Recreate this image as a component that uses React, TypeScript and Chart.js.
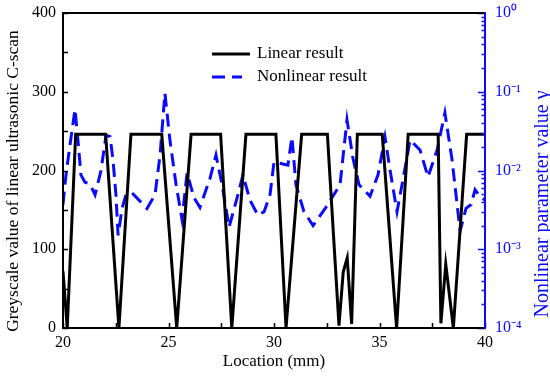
import { useEffect, useRef } from 'react';
import { Chart, registerables } from 'chart.js';

Chart.register(...registerables);

// ---- data ----
const linearX = [20.0, 20.2, 20.6, 22.02, 22.65, 23.22, 24.68, 25.39, 26.07, 27.47, 28.0, 28.67, 30.09, 30.57, 31.31, 32.53, 33.08, 33.28, 33.47, 33.68, 33.95, 35.13, 35.81, 36.36, 37.78, 37.91, 38.14, 38.5, 39.13, 40.0];
const linearY = [72, 0, 246, 246, 0, 246, 246, 0, 246, 246, 0, 246, 246, 0, 246, 246, 3, 71, 89, 5, 246, 246, 0, 246, 246, 6, 81, 0, 246, 246];

const nonlinearX = [20.0, 20.14, 20.33, 20.57, 20.71, 20.85, 21.04, 21.28, 21.52, 21.8, 22.04, 22.23, 22.37, 22.51, 22.61, 22.8, 22.99, 23.27, 23.98, 24.36, 24.6, 24.83, 25.07, 25.36, 25.64, 25.88, 26.21, 26.49, 26.97, 27.25, 27.54, 27.87, 28.25, 28.53, 28.86, 29.24, 29.53, 29.81, 30.0, 30.66, 30.85, 31.04, 31.42, 31.85, 32.46, 33.13, 33.46, 33.74, 34.03, 34.55, 34.93, 35.26, 35.5, 35.83, 36.11, 36.45, 36.92, 37.3, 37.73, 38.1, 38.44, 38.82, 39.1, 39.34, 39.53, 39.76, 40.0];
const nonlinearY = [0.0037, 0.0088, 0.021, 0.06, 0.024, 0.0088, 0.0071, 0.0067, 0.0049, 0.01, 0.028, 0.027, 0.0136, 0.0049, 0.0015, 0.0033, 0.005, 0.0052, 0.0033, 0.0049, 0.0157, 0.096, 0.024, 0.0066, 0.0024, 0.0093, 0.0045, 0.0034, 0.008, 0.0157, 0.0066, 0.0019, 0.0045, 0.0088, 0.0042, 0.0027, 0.003, 0.0049, 0.0128, 0.0117, 0.0266, 0.0066, 0.003, 0.002, 0.0034, 0.0066, 0.044, 0.0144, 0.0066, 0.0047, 0.0088, 0.0266, 0.0101, 0.003, 0.0076, 0.0244, 0.0182, 0.0083, 0.0182, 0.054, 0.0136, 0.0017, 0.0033, 0.0037, 0.0057, 0.0047, 0.0042];

const seriesNames = ['Linear result', 'Nonlinear result'];
const xTitle = 'Location (mm)';
const yLeftTitle = 'Greyscale value of linear ultrasonic C-scan';
const yRightTitle = 'Nonlinear parameter value \u03B3';

const xTickLabels = [20, 25, 30, 35, 40];
const xMinorTicks = [20, 22.5, 25, 27.5, 30, 32.5, 35, 37.5, 40];
const yLeftTickLabels = [0, 100, 200, 300, 400];
const yLeftMinorTicks = [0, 50, 100, 150, 200, 250, 300, 350, 400];
const yRightDecades = [1e-4, 1e-3, 1e-2, 1e-1, 1];

const BLUE = '#0a0aff';
const FONT = '"Liberation Serif", "Times New Roman", serif';

const SUP: Record<string, string> = { '0': '\u2070', '1': '\u00B9', '2': '\u00B2', '3': '\u00B3', '4': '\u2074', '-': '\u207B' };
const supText = (n: number) => String(n).split('').map((c) => SUP[c] || c).join('');

const decorPlugin = {
  id: 'decor',
  afterDatasetsDraw(chart: any) {
    const { ctx, chartArea: a, scales } = chart;
    const xs = scales.x, ys = scales.y, yr = scales.y1;
    ctx.save();
    ctx.setLineDash([]);
    ctx.lineWidth = 1.5;
    // black ticks (inward)
    ctx.strokeStyle = '#000';
    ctx.beginPath();
    for (const v of yLeftMinorTicks) {
      const py = Math.round(ys.getPixelForValue(v)) + 0.5;
      ctx.moveTo(a.left, py);
      ctx.lineTo(a.left + 5, py);
    }
    for (const v of xMinorTicks) {
      const px = Math.round(xs.getPixelForValue(v)) + 0.5;
      ctx.moveTo(px, a.bottom);
      ctx.lineTo(px, a.bottom - 5);
    }
    ctx.stroke();
    // blue log ticks
    ctx.strokeStyle = BLUE;
    ctx.beginPath();
    for (let i = 0; i < yRightDecades.length; i++) {
      const d = yRightDecades[i];
      const py = Math.round(yr.getPixelForValue(d)) + 0.5;
      ctx.moveTo(a.right, py);
      ctx.lineTo(a.right - 7, py);
      if (i < yRightDecades.length - 1) {
        for (let k = 2; k <= 9; k++) {
          const pm = Math.round(yr.getPixelForValue(d * k)) + 0.5;
          ctx.moveTo(a.right, pm);
          ctx.lineTo(a.right - 3.5, pm);
        }
      }
    }
    ctx.stroke();
    // frame
    ctx.lineWidth = 2;
    ctx.strokeStyle = '#000';
    ctx.beginPath();
    ctx.moveTo(a.right, a.top);
    ctx.lineTo(a.left, a.top);
    ctx.lineTo(a.left, a.bottom);
    ctx.lineTo(a.right, a.bottom);
    ctx.stroke();
    ctx.strokeStyle = BLUE;
    ctx.beginPath();
    ctx.moveTo(a.right, a.top - 1);
    ctx.lineTo(a.right, a.bottom + 1);
    ctx.stroke();

    // legend
    const lx = a.left + 149;
    const ly1 = a.top + 41;
    const ly2 = a.top + 64;
    ctx.lineWidth = 3;
    ctx.strokeStyle = '#000';
    ctx.beginPath();
    ctx.moveTo(lx, ly1);
    ctx.lineTo(lx + 38, ly1);
    ctx.stroke();
    ctx.strokeStyle = BLUE;
    ctx.setLineDash([13, 7]);
    ctx.beginPath();
    ctx.moveTo(lx, ly2);
    ctx.lineTo(lx + 30, ly2);
    ctx.stroke();
    ctx.setLineDash([]);
    ctx.fillStyle = '#000';
    ctx.font = '17px ' + FONT;
    ctx.textAlign = 'left';
    ctx.textBaseline = 'middle';
    ctx.fillText(seriesNames[0], lx + 45, ly1);
    ctx.fillText(seriesNames[1], lx + 45, ly2);

    // left title
    ctx.save();
    ctx.translate(13, 181);
    ctx.rotate(-Math.PI / 2);
    ctx.fillStyle = '#000';
    ctx.font = '17.5px ' + FONT;
    ctx.textAlign = 'center';
    ctx.textBaseline = 'middle';
    ctx.fillText(yLeftTitle, 0, 0);
    ctx.restore();

    // right title
    ctx.save();
    ctx.translate(a.right + 58, 204);
    ctx.rotate(-Math.PI / 2);
    ctx.fillStyle = BLUE;
    ctx.font = '20px ' + FONT;
    ctx.textAlign = 'center';
    ctx.textBaseline = 'middle';
    ctx.fillText(yRightTitle, 0, 0);
    ctx.restore();
    ctx.restore();
  },
};

const noPadV = (s: any) => { s.paddingTop = 0; s.paddingBottom = 0; };

export default function App() {
  const ref = useRef<HTMLCanvasElement>(null);
  useEffect(() => {
    if (!ref.current) return;
    const chart = new Chart(ref.current, {
      type: 'line',
      data: {
        datasets: [
          {
            label: seriesNames[0],
            data: linearX.map((x, i) => ({ x, y: linearY[i] })),
            yAxisID: 'y',
            borderColor: '#000',
            borderWidth: 3,
            pointRadius: 0,
            tension: 0,
            fill: false,
          },
          {
            label: seriesNames[1],
            data: nonlinearX.map((x, i) => ({ x, y: nonlinearY[i] })),
            yAxisID: 'y1',
            borderColor: BLUE,
            borderWidth: 3,
            borderDash: [13, 7],
            pointRadius: 0,
            tension: 0,
            fill: false,
          },
        ],
      },
      options: {
        animation: false,
        responsive: false,
        devicePixelRatio: 1,
        layout: { padding: { top: 13, left: 0, right: 0, bottom: 0 } },
        plugins: { legend: { display: false }, tooltip: { enabled: false } },
        scales: {
          x: {
            type: 'linear',
            min: 20,
            max: 40,
            grid: { display: false, drawTicks: false },
            border: { display: false },
            afterBuildTicks: (s: any) => { s.ticks = xTickLabels.map((v) => ({ value: v })); },
            afterFit: (s: any) => { s.height = 48; s.paddingLeft = 0; s.paddingRight = 0; },
            ticks: { color: '#000', font: { family: FONT, size: 16 }, padding: 5, maxRotation: 0 },
            title: { display: true, text: xTitle, color: '#000', font: { family: FONT, size: 17 }, padding: { top: 0, bottom: 4 } },
          },
          y: {
            type: 'linear',
            position: 'left',
            min: 0,
            max: 400,
            grid: { display: false, drawTicks: false },
            border: { display: false },
            afterBuildTicks: (s: any) => { s.ticks = yLeftTickLabels.map((v) => ({ value: v })); },
            afterFit: (s: any) => { s.width = 63; noPadV(s); },
            ticks: { color: '#000', font: { family: FONT, size: 16 }, padding: 7 },
          },
          y1: {
            type: 'logarithmic',
            position: 'right',
            min: 1e-4,
            max: 1,
            grid: { display: false, drawTicks: false },
            border: { display: false },
            afterBuildTicks: (s: any) => { s.ticks = yRightDecades.map((v) => ({ value: v })); },
            afterFit: (s: any) => { s.width = 65; noPadV(s); },
            ticks: {
              color: BLUE,
              font: { family: FONT, size: 16 },
              padding: 10,
              autoSkip: false,
              callback: (v: any) => '10' + supText(Math.round(Math.log10(Number(v)))),
            },
          },
        },
      },
      plugins: [decorPlugin],
    } as any);
    return () => chart.destroy();
  }, []);
  return (
    <div style={{ position: 'fixed', left: 0, top: 0, width: 550, height: 376, background: '#fff' }}>
      <canvas ref={ref} width={550} height={376} style={{ display: 'block' }} />
    </div>
  );
}
